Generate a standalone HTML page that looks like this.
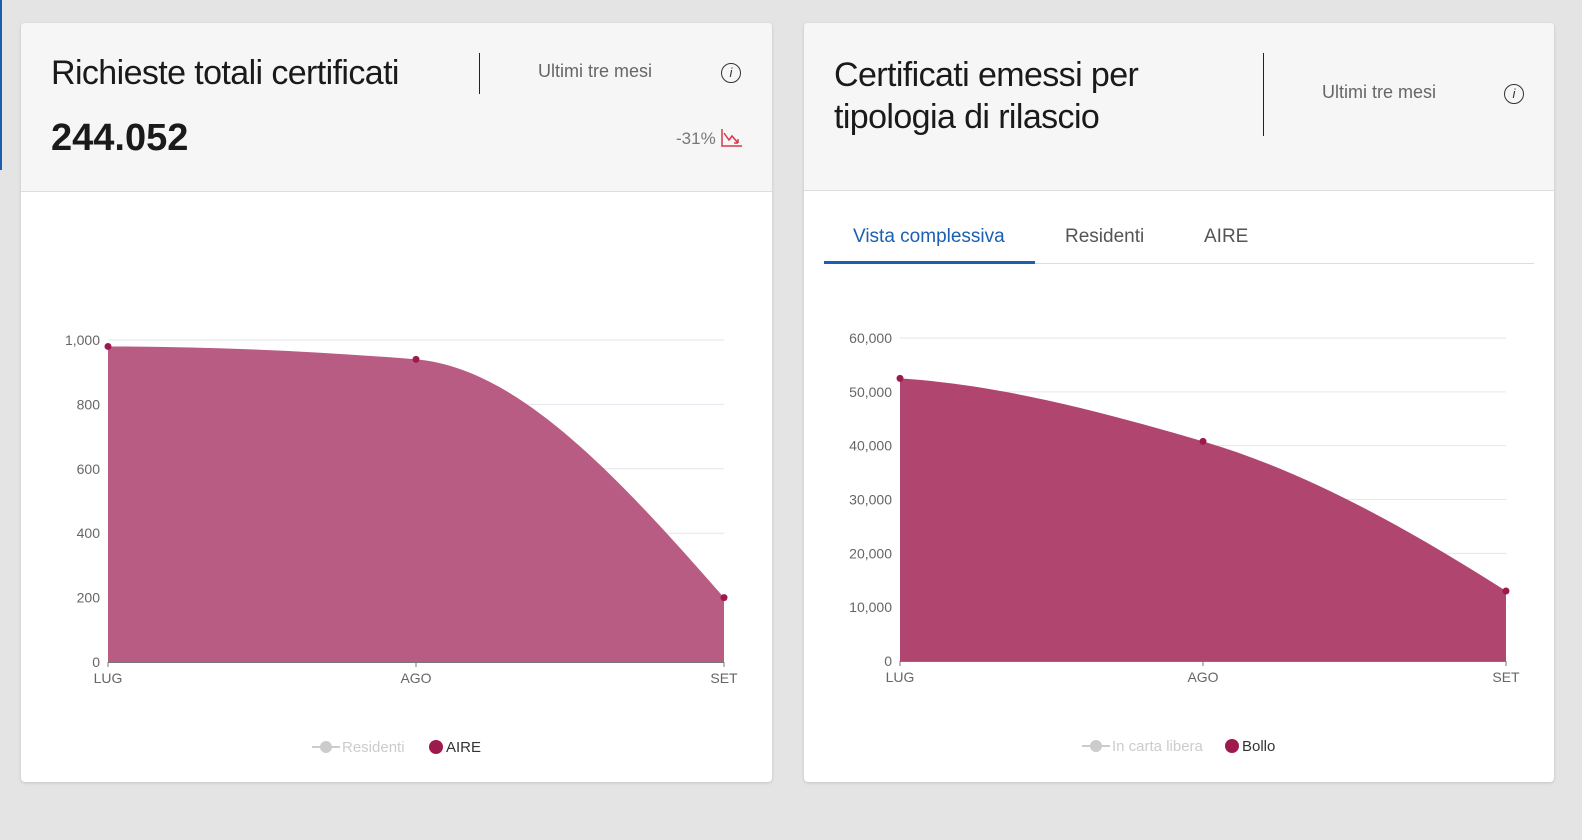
<!DOCTYPE html>
<html><head><meta charset="utf-8">
<style>
body{margin:0;width:1582px;height:840px;background:#e4e4e4;font-family:"Liberation Sans",sans-serif;position:relative;overflow:hidden}
.card{position:absolute;background:#fff;border-radius:4px;box-shadow:0 1px 3px rgba(0,0,0,.15);overflow:hidden}
.hdr{position:absolute;left:0;top:0;right:0;background:#f6f6f6;border-bottom:1px solid #ddd}
.t{position:absolute;color:#1a1a1a}
svg text{font-family:"Liberation Sans",sans-serif}
</style></head><body>
<div style="position:absolute;left:0;top:0;width:2px;height:170px;background:#1b5fb0"></div>

<div class="card" style="left:21px;top:23px;width:751px;height:759px">
 <div class="hdr" style="height:168px">
  <div class="t" style="left:30px;top:31px;font-size:34px;letter-spacing:-0.6px">Richieste totali certificati</div>
  <div style="position:absolute;left:458px;top:30px;width:1px;height:41px;background:#222"></div>
  <div class="t" style="left:517px;top:38px;font-size:18px;color:#666">Ultimi tre mesi</div>
  <div style="position:absolute;left:700px;top:40px;width:18px;height:18px;border:1.5px solid #333;border-radius:50%;font-size:13px;font-style:italic;text-align:center;line-height:18px;color:#333;box-sizing:content-box">i</div>
  <div class="t" style="left:30px;top:94px;font-size:38px;font-weight:bold">244.052</div>
  <div class="t" style="left:655px;top:106px;font-size:17px;color:#777">-31%</div>
  <svg style="position:absolute;left:700px;top:105px" width="22" height="20"><path d="M1 1V18H21" stroke="#d9364f" fill="none" stroke-width="1.5"/><path d="M3 5L8 12L11 8L17 15M17 15V11M17 15H13" stroke="#d9364f" fill="none" stroke-width="1.5"/></svg>
 </div>
</div>

<div class="card" style="left:804px;top:23px;width:750px;height:759px">
 <div class="hdr" style="height:167px">
  <div class="t" style="left:30px;top:31px;font-size:34px;line-height:42px;letter-spacing:-0.6px">Certificati emessi per<br>tipologia di rilascio</div>
  <div style="position:absolute;left:459px;top:30px;width:1px;height:83px;background:#222"></div>
  <div class="t" style="left:518px;top:59px;font-size:18px;color:#666">Ultimi tre mesi</div>
  <div style="position:absolute;left:700px;top:61px;width:18px;height:18px;border:1.5px solid #333;border-radius:50%;font-size:13px;font-style:italic;text-align:center;line-height:18px;color:#333">i</div>
 </div>
 <div class="t" style="left:49px;top:203px;font-size:19px;color:#1b5fb0">Vista complessiva</div>
 <div class="t" style="left:261px;top:203px;font-size:19px;color:#555">Residenti</div>
 <div class="t" style="left:400px;top:203px;font-size:19px;color:#555">AIRE</div>
 <div style="position:absolute;left:20px;top:240px;width:710px;height:1px;background:#ddd"></div>
 <div style="position:absolute;left:20px;top:238px;width:211px;height:3px;background:#1b5fb0"></div>
</div>

<svg id="chart" width="1582" height="840" style="position:absolute;left:0;top:0"></svg>

<script>
const categories = ["LUG","AGO","SET"];
const aireValues = [980, 940, 200];
const ticks1 = [0,200,400,600,800,1000];
const tickLabels1 = ["0","200","400","600","800","1,000"];
const bolloValues = [52500, 40800, 13000];
const ticks2 = [0,10000,20000,30000,40000,50000,60000];
const tickLabels2 = ["0","10,000","20,000","30,000","40,000","50,000","60,000"];

const NS="http://www.w3.org/2000/svg";
const svg=document.getElementById('chart');
function mk(tag,attrs,parent){const e=document.createElementNS(NS,tag);for(const k in attrs)e.setAttribute(k,attrs[k]);(parent||svg).appendChild(e);return e;}

// pts in pixel space; slopes in pixel units
function smooth(pts){
 const n=pts.length,d=[],m=[];
 for(let i=0;i<n-1;i++)d.push((pts[i+1][1]-pts[i][1])/(pts[i+1][0]-pts[i][0]));
 for(let i=0;i<n;i++){
  if(i===0){let s=d[0]-(d[1]-d[0])/2; if(s*d[0]<0)s=0; m.push(s);}
  else if(i===n-1){m.push(d[n-2]+(d[n-2]-d[n-3])/2);}
  else m.push(d[i-1]*d[i]<=0?0:(2/(1/d[i-1]+1/d[i])));
 }
 let p="M"+pts[0][0]+","+pts[0][1];
 for(let i=0;i<n-1;i++){
  const h=(pts[i+1][0]-pts[i][0])/3;
  p+=" C"+(pts[i][0]+h)+","+(pts[i][1]+m[i]*h)+" "+(pts[i+1][0]-h)+","+(pts[i+1][1]-m[i+1]*h)+" "+pts[i+1][0]+","+pts[i+1][1];
 }
 return p;
}

function drawChart(o){
 const g=mk('g',{});
 
 
 const xs=i=>o.x0+(o.x1-o.x0)*i/(categories.length-1);
 const ys=v=>o.y0-(o.y0-o.y1)*v/o.max;
 o.ticks.forEach((t,i)=>{
  const y=ys(t);
  if(t>0){const l=mk('line',{x1:o.x0,x2:o.x1,y1:y,y2:y,stroke:'#e3e6ee','stroke-width':1},g);
   }
  const tx=mk('text',{x:o.x0-8,y:y+5,'text-anchor':'end','font-size':14,fill:'#666'},g);
  tx.textContent=o.labels[i];
  
 });
 const pts=o.values.map((v,i)=>[xs(i),ys(v)]);
 const area=mk('path',{d:smooth(pts)+" L"+o.x1+","+o.y0+" L"+o.x0+","+o.y0+" Z",fill:o.fill},g);
 
 const ax=mk('line',{x1:o.x0,x2:o.x1,y1:o.y0+0.5,y2:o.y0+0.5,stroke:'#777','stroke-width':1},g);
 
 categories.forEach((c,i)=>{
  const x=xs(i);
  const tk=mk('line',{x1:x,x2:x,y1:o.y0,y2:o.y0+5,stroke:'#777'},g);
  
  const tx=mk('text',{x:x,y:o.y0+21,'text-anchor':'middle','font-size':14,fill:'#666'},g);
  tx.textContent=c;
  
 });
 pts.forEach(p=>{
  const c=mk('circle',{cx:p[0],cy:p[1],r:3.5,fill:'#9e1a4e'},g);
  
 });
 const L=o.legend;
 const lg=mk('g',{},g);
 
 const e1=mk('g',{},lg);
 
 mk('line',{x1:L.x,x2:L.x+28,y1:L.y,y2:L.y,stroke:'#ccc','stroke-width':2},e1);
 mk('circle',{cx:L.x+14,cy:L.y,r:6,fill:'#ccc'},e1);
 const t1=mk('text',{x:L.x+30,y:L.y+5,'font-size':15,fill:'#ccc'},e1);t1.textContent=L.a;
 const e2=mk('g',{},lg);
 
 mk('circle',{cx:L.x2,cy:L.y,r:7,fill:'#9e1a4e'},e2);
 const t2=mk('text',{x:L.x2+10,y:L.y+5,'font-size':15,fill:'#333'},e2);t2.textContent=L.b;
}

drawChart({name:'chart-richieste',x0:108,x1:724,y0:662,y1:340,max:1000,ticks:ticks1,labels:tickLabels1,values:aireValues,fill:'#b95c84',legend:{x:312,y:747,a:'Residenti',x2:436,b:'AIRE'}});
drawChart({name:'chart-tipologia',x0:900,x1:1506,y0:661,y1:338,max:60000,ticks:ticks2,labels:tickLabels2,values:bolloValues,fill:'#b04570',legend:{x:1082,y:746,a:'In carta libera',x2:1232,b:'Bollo'}});
</script>
</body></html>
